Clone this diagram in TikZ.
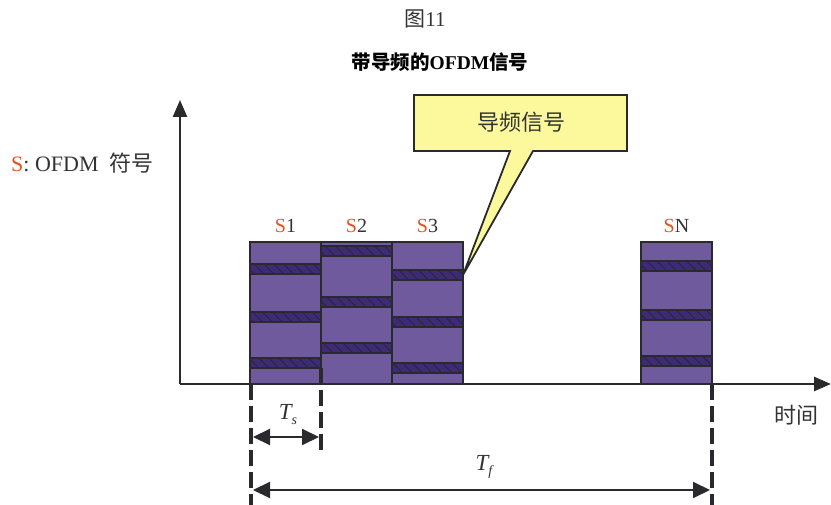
\documentclass[tikz,border=0pt]{standalone}
\usepackage{fontspec}
\setmainfont{Liberation Serif}
\newfontfamily\cjk{Noto Sans CJK SC}
\usetikzlibrary{arrows.meta,patterns.meta}
\definecolor{sym}{HTML}{6E5A9C}
\definecolor{pil}{HTML}{3E2A78}
\definecolor{edge}{HTML}{2A2A2E}
\definecolor{sred}{HTML}{E8501F}
\definecolor{callfill}{HTML}{FBF99C}
\definecolor{txt}{HTML}{333333}
\tikzset{
 hatch/.style={pattern={Lines[angle=-45,distance=7pt,line width=1pt]}, pattern color=edge},
 axisline/.style={line width=2.5pt, draw=edge, -{Triangle[length=17pt,width=14pt]}},
 dimline/.style={line width=4.5pt, draw=edge, dash pattern=on 16pt off 6pt},
 meas/.style={line width=2pt, draw=edge, {Triangle[length=17pt,width=16pt]}-{Triangle[length=17pt,width=16pt]}},
 lbl/.style={font=\fontsize{20}{20}\selectfont, inner sep=0pt, text=txt},
 cjklbl/.style={font=\cjk\fontsize{20}{20}\selectfont, inner sep=0pt, text=txt},
 callout/.style={fill=callfill, draw=edge, line width=1.8pt, line join=miter},
}
\begin{document}
\begin{tikzpicture}[x=1pt,y=-1pt]
\useasboundingbox (0,0) rectangle (831,505);
% titles
\node[lbl, font=\fontsize{21}{21}\selectfont] (fig) at (425,19) {{\cjk 图}11};
\node[lbl, text=black, font=\fontsize{19.5}{19.5}\selectfont] (title) at (440,62) {{\cjk\bfseries 带导频的}\textbf{OFDM}{\cjk\bfseries 信号}};
% legend
\node[lbl, anchor=west, font=\fontsize{22}{22}\selectfont] (legend) at (11,163) {\textcolor{sred}{S}: OFDM\ \ {\cjk 符号}};
% blocks
\foreach \xa/\xb/\ya/\yb/\yc/\nm in {250/321/269/317/363/s1, 321/392/251/302/348/s2, 392/463/275/322/368/s3, 641/712/266/315/361/sN}{
  \fill[sym] (\xa,242) rectangle (\xb,384);
  \foreach \yy in {\ya,\yb,\yc}{
    \fill[pil] (\xa,\yy-5) rectangle (\xb,\yy+5);
    \fill[hatch] (\xa,\yy-5) rectangle (\xb,\yy+5);
    \draw[edge, line width=2.2pt] (\xa,\yy-5) -- (\xb,\yy-5) (\xa,\yy+5) -- (\xb,\yy+5);
  }
  \draw[edge, line width=2pt] (\xa,384) rectangle (\xb,242);
  \coordinate (\nm-top) at ({(\xa+\xb)/2},226);
}
\node[lbl] (l1) at (s1-top) {\textcolor{sred}{S}1};
\node[lbl] (l2) at (s2-top) {\textcolor{sred}{S}2};
\node[lbl] (l3) at (s3-top) {\textcolor{sred}{S}3};
\node[lbl] (lN) at (sN-top) {\textcolor{sred}{S}N};
% axes
\coordinate (origin) at (180,384);
\coordinate (ytip) at (180,100);
\coordinate (xtip) at (831,384);
\draw[axisline] (origin) -- (ytip);
\draw[axisline] (origin) -- (xtip);
\node[cjklbl, font=\cjk\fontsize{22}{22}\selectfont] (time) at (796,415) {时间};
% dimension lines
\coordinate (d1a) at (251,384);
\coordinate (d1b) at (251,505);
\coordinate (d2a) at (321,368);
\coordinate (d2b) at (321,452);
\coordinate (d3a) at (712,384);
\coordinate (d3b) at (712,505);
\draw[dimline] (d1a) -- (d1b);
\draw[dimline] (d2a) -- (d2b);
\draw[dimline] (d3a) -- (d3b);
\coordinate (tsa) at (253,437);
\coordinate (tsb) at (319,437);
\coordinate (tfa) at (253,490);
\coordinate (tfb) at (710,490);
\draw[meas] (tsa) -- (tsb);
\draw[meas] (tfa) -- (tfb);
\node[lbl, font=\fontsize{23}{23}\selectfont] (ts) at (288,415) {\itshape T\raisebox{-5pt}{\fontsize{14}{14}\selectfont s}};
\node[lbl, font=\fontsize{23}{23}\selectfont] (tf) at (484,467) {\itshape T\raisebox{-5pt}{\fontsize{14}{14}\selectfont f}};
% callout
\coordinate (ptr) at (463,275);
\draw[callout] (414,95) -- (627,95) -- (627,151) -- (533,151) -- (ptr) -- (510,151) -- (414,151) -- cycle;
\node[cjklbl, font=\cjk\fontsize{22}{22}\selectfont] (pilot) at (521,122) {导频信号};
\end{tikzpicture}
\end{document}
